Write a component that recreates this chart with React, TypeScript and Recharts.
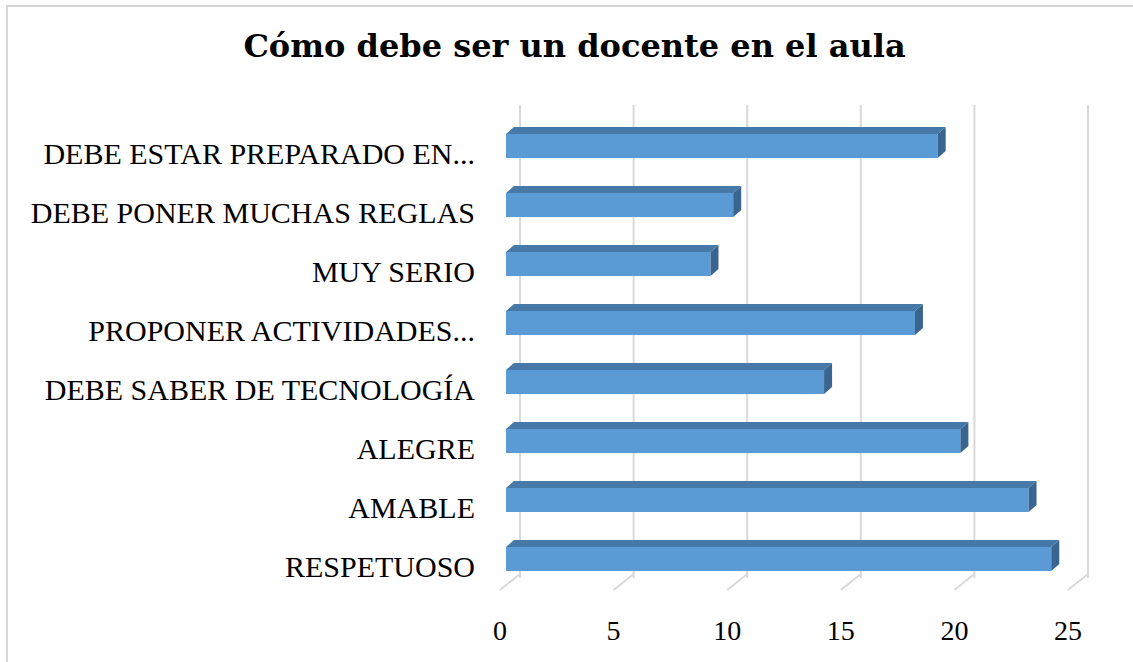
import React from 'react';
import { BarChart, Bar, XAxis, YAxis, CartesianGrid } from 'recharts';

const categories = [
  'DEBE ESTAR PREPARADO EN...',
  'DEBE PONER MUCHAS REGLAS',
  'MUY SERIO',
  'PROPONER ACTIVIDADES...',
  'DEBE SABER DE TECNOLOGÍA',
  'ALEGRE',
  'AMABLE',
  'RESPETUOSO',
];
const values = [19, 10, 9, 18, 14, 20, 23, 24];
const xTicks = [0, 5, 10, 15, 20, 25];

const data = categories.map((name, i) => ({ name, value: values[i] }));

const DEPTH_X = 8;
const DEPTH_Y = 7;
const WALL_X = 14;
const FLOOR_X = -6;

function Bar3D(props: any) {
  const { x, y, width, height } = props;
  if (width <= 0) return null;
  const r = x + width;
  return (
    <g>
      <rect x={x} y={y} width={width} height={height} fill="#5B9BD5" />
      <polygon
        points={`${x},${y} ${x + DEPTH_X},${y - DEPTH_Y} ${r + DEPTH_X},${y - DEPTH_Y} ${r},${y}`}
        fill="#4679A8"
      />
      <polygon
        points={`${r},${y} ${r + DEPTH_X},${y - DEPTH_Y} ${r + DEPTH_X},${y + height - DEPTH_Y} ${r},${y + height}`}
        fill="#3A6591"
      />
    </g>
  );
}

function XTick(props: any) {
  const { x, y, payload } = props;
  return (
    <g>
      <polyline
        points={`${x + WALL_X},${y - 22} ${x + FLOOR_X},${y - 6}`}
        fill="none"
        stroke="#d9d9d9"
        strokeWidth={2}
      />
      <text
        x={x + FLOOR_X}
        y={y + 44}
        textAnchor="middle"
        fontFamily="'Liberation Serif', serif"
        fontSize={28}
        fill="#000"
      >
        {payload.value}
      </text>
    </g>
  );
}

function YTick(props: any) {
  const { x, y, payload } = props;
  return (
    <text
      x={x - 23}
      y={y + 18}
      textAnchor="end"
      fontFamily="'Liberation Serif', serif"
      fontSize={30}
      fill="#000"
    >
      {payload.value}
    </text>
  );
}

export default function App() {
  return (
    <div style={{ position: 'fixed', left: 0, top: 0, width: 1133, height: 662, background: '#fff', overflow: 'hidden' }}>
      <div
        style={{
          position: 'absolute',
          left: 0,
          width: 1149,
          top: 27,
          textAlign: 'center',
          fontFamily: "'DejaVu Serif', serif",
          fontWeight: 'bold',
          fontSize: 32,
          color: '#000',
        }}
      >
        Cómo debe ser un docente en el aula
      </div>
      <div style={{ position: 'absolute', left: 0, top: 0 }}>
        <BarChart
          width={1133}
          height={662}
          data={data}
          layout="vertical"
          margin={{ top: 116, right: 59, bottom: 14, left: 0 }}
          barCategoryGap={0}
        >
          <CartesianGrid
            horizontal={false}
            stroke="#d9d9d9"
            strokeWidth={2}
            y={105}
            height={473}
            verticalCoordinatesGenerator={({ offset }: any) =>
              xTicks.map((t) => offset.left + (offset.width * t) / 25 + WALL_X)
            }
          />
          <XAxis
            type="number"
            domain={[0, 25]}
            ticks={xTicks}
            axisLine={false}
            tickLine={false}
            height={60}
            tick={<XTick />}
          />
          <YAxis
            type="category"
            dataKey="name"
            width={506}
            axisLine={false}
            tickLine={false}
            tick={<YTick />}
            interval={0}
          />
          <Bar dataKey="value" barSize={24} shape={<Bar3D />} isAnimationActive={false} />
        </BarChart>
      </div>
      <div
        style={{
          position: 'absolute',
          left: 6,
          top: 5,
          width: 1140,
          height: 670,
          borderTop: '2px solid #d6d6d6',
          borderLeft: '2px solid #d6d6d6',
          boxSizing: 'border-box',
          pointerEvents: 'none',
        }}
      />
    </div>
  );
}
